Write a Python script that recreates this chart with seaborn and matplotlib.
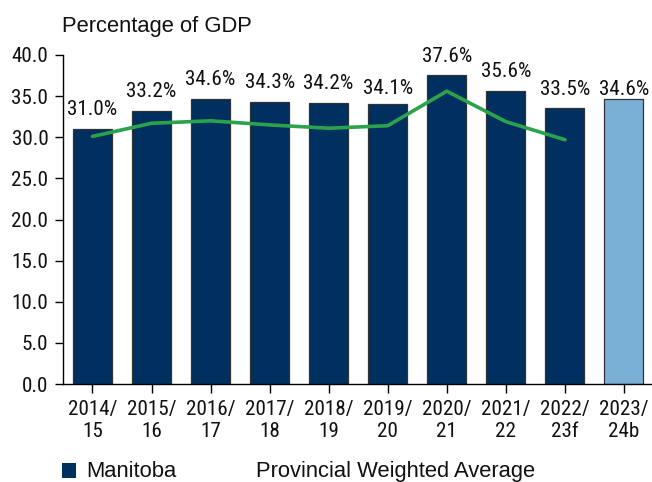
import matplotlib
matplotlib.use("Agg")
import matplotlib.pyplot as plt
from matplotlib import font_manager as fm
from matplotlib.patches import Rectangle
import seaborn as sns
import pandas as pd

# Fiscal years and Manitoba's share of GDP
periods = ["2014/\n15", "2015/\n16", "2016/\n17", "2017/\n18", "2018/\n19",
           "2019/\n20", "2020/\n21", "2021/\n22", "2022/\n23f", "2023/\n24b"]
manitoba = [31.0, 33.2, 34.6, 34.3, 34.2, 34.1, 37.6, 35.6, 33.5, 34.6]
# Provincial weighted average (no value for the budget year)
provincial_avg = [30.1, 31.7, 32.0, 31.5, 31.1, 31.4, 35.6, 31.9, 29.7]
y_ticks = [0, 5, 10, 15, 20, 25, 30, 35, 40]

NAVY = "#00305F"
LIGHT = "#7AB0D6"
GREEN = "#2BA24C"
EDGE = "#333333"
bar_colors = [NAVY] * 9 + [LIGHT]
# vertical gap (pixels) between each bar top and its value label
label_gap = [14, 14, 14, 13.5, 14, 10, 13, 14, 13, 4]

sns.set_theme(style="white")
names = {f.name for f in fm.fontManager.ttflist}
narrow = next((n for n in ["Liberation Sans Narrow", "Arial Narrow",
                           "Roboto Condensed", "Open Sans Condensed"]
               if n in names), None)
REG = "Liberation Sans"
if narrow is None:
    NARROW, NSIZE = REG, 12.6
else:
    NARROW, NSIZE = narrow, 15.2
plt.rcParams["font.family"] = [REG, "DejaVu Sans"]

fig = plt.figure(figsize=(6.52, 4.82), dpi=100)
ax = fig.add_axes([63.3 / 652, 1 - 384 / 482, 1 - 63.3 / 652, (384 - 55) / 482])

df = pd.DataFrame({"period": periods, "value": manitoba})
sns.barplot(data=df, x="period", y="value", hue="period", palette=bar_colors,
            legend=False, width=0.66, saturation=1, edgecolor=EDGE,
            linewidth=0.9, ax=ax, zorder=2)

line_df = pd.DataFrame({"x": list(range(len(provincial_avg))), "y": provincial_avg})
sns.lineplot(data=line_df, x="x", y="y", color=GREEN, linewidth=2.6, ax=ax,
             zorder=3)

for i, (v, g) in enumerate(zip(manitoba, label_gap)):
    ax.annotate(f"{v:.1f}%", xy=(i, v), xytext=(0, g), textcoords="offset pixels",
                ha="center", va="baseline", fontsize=NSIZE, family=NARROW,
                color="#111111", annotation_clip=False)

ax.set_xlim(-0.494, 9.475)
ax.set_ylim(0, 40)
ax.set_yticks(y_ticks)
ax.set_yticklabels([f"{t:.1f}" for t in y_ticks], family=NARROW, fontsize=NSIZE)
ax.set_xticks(range(len(periods)))
ax.set_xticklabels(periods, family=NARROW, fontsize=NSIZE, linespacing=1.2)
ax.set_xlabel("")
ax.set_ylabel("")
ax.tick_params(axis="y", direction="out", length=5.8, width=1.0, pad=5,
               color="black", labelcolor="#111111", left=True)
ax.tick_params(axis="x", direction="out", length=6.5, width=1.0, pad=5,
               color="black", labelcolor="#111111", bottom=True)
for s in ["top", "right"]:
    ax.spines[s].set_visible(False)
for s in ["left", "bottom"]:
    ax.spines[s].set_color("black")
    ax.spines[s].set_linewidth(1.0)
ax.grid(False)

fig.text(62 / 652, 1 - 32.3 / 482, "Percentage of GDP", fontsize=15.8,
         color="#111111", ha="left", va="baseline")

# legend
fig.patches.append(Rectangle((62 / 652, 1 - 478 / 482), 14 / 652, 15 / 482,
                             transform=fig.transFigure, facecolor=NAVY,
                             edgecolor="none"))
fig.text(86 / 652, 1 - 477.3 / 482, "Manitoba", fontsize=15.8, color="#111111",
         ha="left", va="baseline")
fig.text(256 / 652, 1 - 477.3 / 482, "Provincial Weighted Average", fontsize=15.8,
         color="#111111", ha="left", va="baseline")

fig.savefig("out.png", dpi=100)
